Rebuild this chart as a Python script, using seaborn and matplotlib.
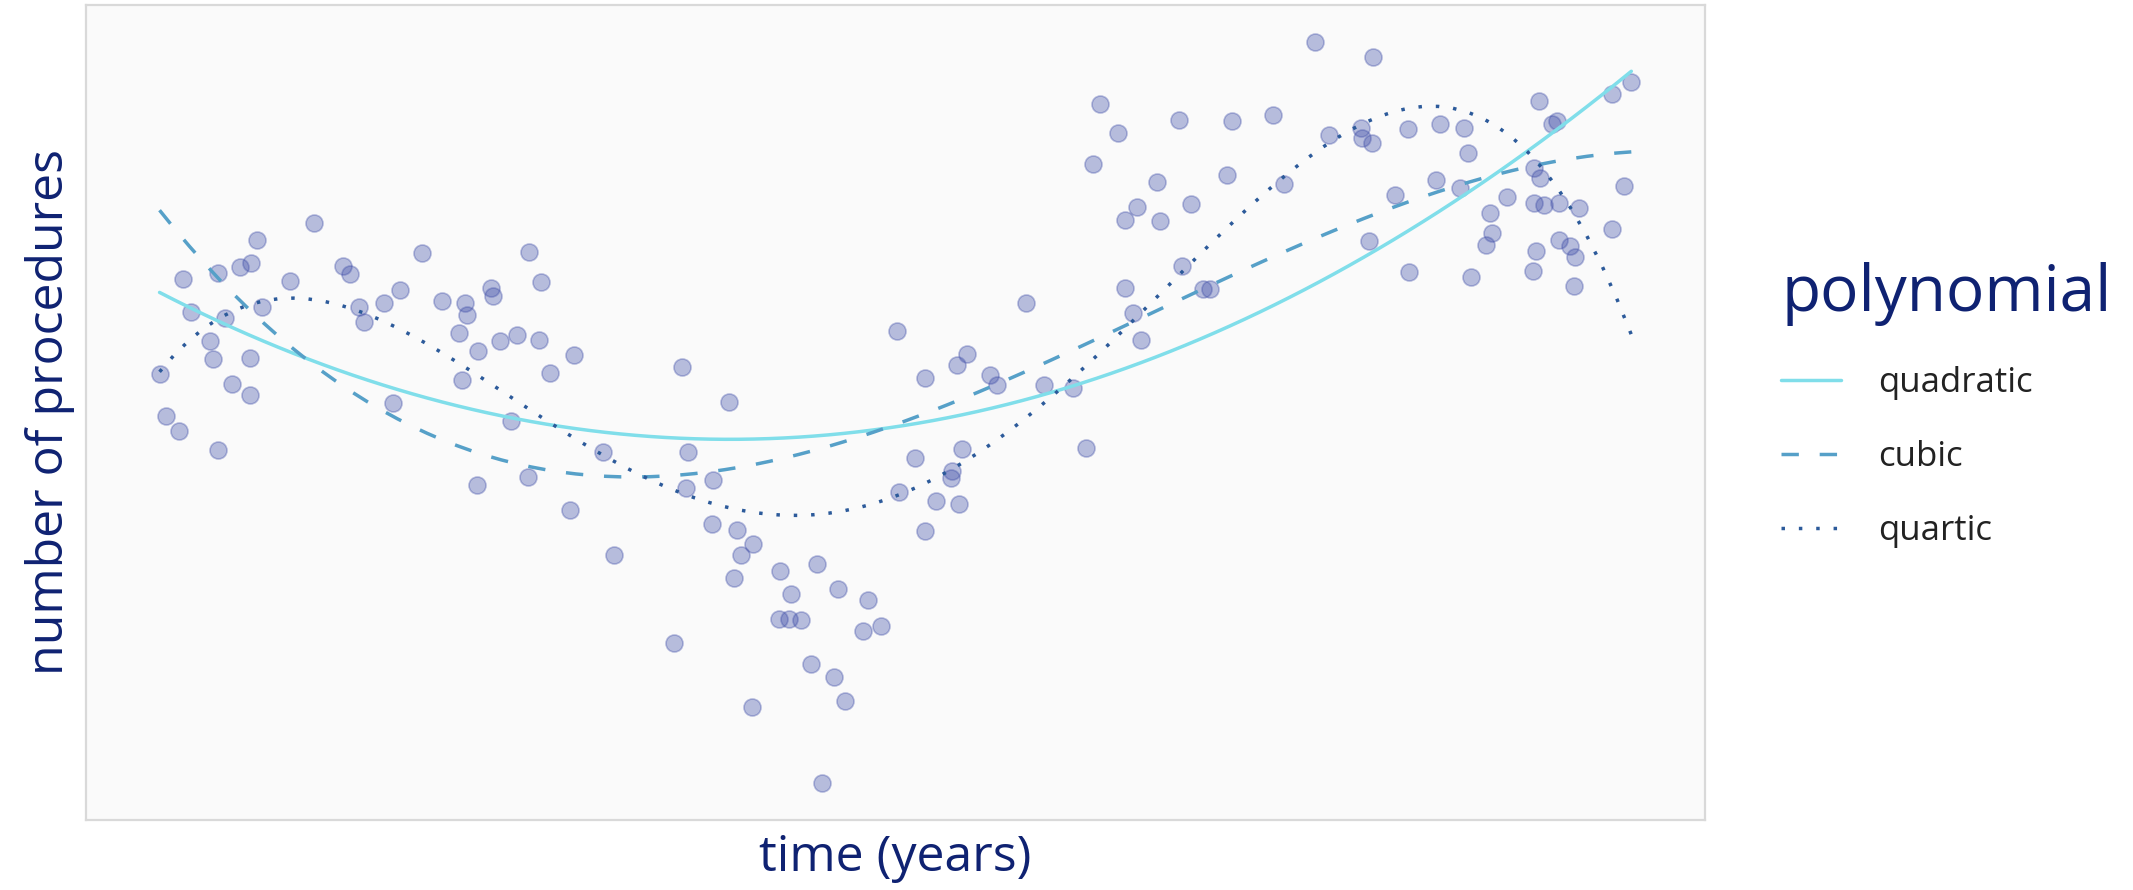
import numpy as np
import pandas as pd
import matplotlib
matplotlib.use("Agg")
import matplotlib.pyplot as plt
import seaborn as sns

# Observations: time in years and number of procedures recorded
time_years = [
    0.08, 0.14, 0.27, 0.31, 0.39, 0.59, 0.62, 0.67, 0.67, 0.74, 0.81, 0.89, 1.00, 1.06,
    0.99, 0.99, 1.11, 1.39, 1.63, 1.92, 1.99, 2.08, 2.13, 2.33, 2.49, 2.42, 2.71, 2.91,
    3.08, 3.11, 3.14, 3.16, 3.27, 3.40, 3.42, 3.49, 3.66, 3.78, 3.90, 3.60, 3.26, 3.77,
    3.88, 4.23, 3.99, 4.52, 4.19, 4.63,
    8.76, 7.47, 5.31, 5.78, 8.17, 8.07, 7.75, 8.40, 8.47, 8.94, 9.23, 9.36, 5.37, 7.65,
    8.12, 8.02, 8.01, 7.49, 7.86, 8.09, 7.75, 5.62, 5.35, 5.61, 5.86, 6.02, 5.90, 5.83,
    6.29, 6.66, 6.40, 6.87, 7.18, 6.28, 6.38, 6.50, 7.13, 7.31, 5.23, 6.60, 6.83, 6.94,
    6.01, 6.71,
    11.65, 12.23, 9.50, 9.68, 10.29, 10.82, 11.23, 9.43, 11.79, 12.11, 12.12, 12.22,
    10.07, 10.77, 11.34, 9.87, 9.75, 10.10, 10.41, 12.19, 10.32, 9.75, 10.53, 10.60,
    9.83, 9.91,
    14.82, 14.63, 13.90, 14.03, 14.08, 12.58, 12.90, 13.14, 13.18, 13.85, 13.91, 12.86,
    13.10, 12.45, 14.75, 13.57, 13.85, 13.95, 14.10, 14.30, 13.40, 13.42, 13.36, 14.63,
    14.10, 14.21, 14.26, 13.87, 12.59, 13.21, 13.84, 14.25,
]
procedures = [
    526, 483, 468, 621, 588, 559, 541, 449, 627, 582, 516, 633, 637, 660,
    542, 504, 593, 619, 677, 634, 626, 593, 578, 597, 610, 496, 647, 599,
    567, 520, 597, 585, 549, 612, 604, 559, 565, 648, 618, 478, 414, 422,
    560, 545, 527, 447, 389, 344,
    597, 569, 533, 497, 546, 535, 522, 525, 515, 515, 512, 451, 447, 441,
    450, 428, 421, 407, 398, 395, 368, 419, 411, 375, 369, 355, 344, 321,
    328, 335, 305, 310, 299, 280, 280, 279, 268, 273, 256, 235, 222, 198,
    192, 116,
    858, 843, 796, 767, 780, 779, 785, 736, 765, 772, 762, 757,
    718, 725, 716, 693, 680, 679, 696, 659, 634, 612, 611, 611,
    587, 560,
    818, 806, 799, 776, 779, 771, 776, 772, 747, 732, 722, 720,
    712, 705, 714, 703, 697, 695, 697, 692, 687, 667, 655, 671,
    660, 654, 643, 649, 628, 623, 629, 614,
]

fit_names = ["quadratic", "cubic", "quartic"]
fit_orders = [2, 3, 4]
fit_colors = ["#80deea", "#56a0c8", "#2c5a9a"]
fit_styles = ["-", (0, (5, 6)), (0, (1, 4))]

df = pd.DataFrame({"time": time_years, "procedures": procedures})

sns.set_style("white")
plt.rcParams["font.family"] = ["Open Sans", "DejaVu Sans"]

navy = "#0f2272"
point_color = "#3f4ea8"

fig = plt.figure(figsize=(21.33, 8.9), dpi=100)
ax = fig.add_axes([0.0403, 0.0787, 0.759, 0.9157])
ax.set_facecolor("#fafafa")

sns.scatterplot(data=df, x="time", y="procedures", ax=ax, s=150,
                color=point_color, alpha=0.36, edgecolor=point_color,
                linewidth=1.2, legend=False, zorder=2)

for name, order, col, ls in zip(fit_names, fit_orders, fit_colors, fit_styles):
    sns.regplot(data=df, x="time", y="procedures", order=order, ci=None,
                scatter=False, ax=ax, label=name,
                line_kws=dict(color=col, lw=2.5, ls=ls, zorder=3))

ax.set_xticks([])
ax.set_yticks([])
for sp in ax.spines.values():
    sp.set_color("#d9d9d9")
    sp.set_linewidth(1.6)

ax.set_xlabel("time (years)", fontsize=36, color=navy, labelpad=10)
ax.set_ylabel("number of procedures", fontsize=36, color=navy, labelpad=8)

leg = ax.legend(loc="center left", bbox_to_anchor=(0.8205, 0.545),
                bbox_transform=fig.transFigure, frameon=False,
                title="polynomial", fontsize=25, title_fontsize=46,
                handlelength=1.73, handletextpad=1.05, labelspacing=1.16,
                alignment="left")
leg.get_title().set_color(navy)
for t in leg.get_texts():
    t.set_color("#222222")

fig.savefig("out.png", dpi=100, facecolor="white")
